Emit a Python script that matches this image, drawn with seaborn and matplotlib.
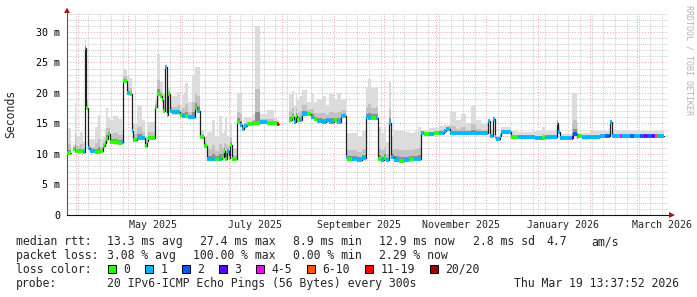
import numpy as np
import pandas as pd
import matplotlib
matplotlib.use("Agg")
import matplotlib.pyplot as plt
import matplotlib.dates as mdates
import matplotlib.ticker as mticker
from matplotlib.patches import Polygon, Rectangle
import seaborn as sns

# ---------------- data ----------------
dates = ["2025-03-25","2025-03-28","2025-03-29","2025-03-30","2025-03-31","2025-04-02","2025-04-04","2025-04-05","2025-04-06","2025-04-07",
         "2025-04-08","2025-04-11","2025-04-13","2025-04-14","2025-04-16","2025-04-17","2025-04-18","2025-04-19","2025-04-20","2025-04-22",
         "2025-04-25","2025-04-27","2025-04-28","2025-04-30","2025-05-02","2025-05-03","2025-05-04","2025-05-06","2025-05-09","2025-05-11",
         "2025-05-12","2025-05-13","2025-05-17","2025-05-18","2025-05-20","2025-05-21","2025-05-22","2025-05-23","2025-05-24","2025-05-25",
         "2025-05-26","2025-05-27","2025-05-30","2025-06-01","2025-06-02","2025-06-04","2025-06-06","2025-06-08","2025-06-10","2025-06-11",
         "2025-06-13","2025-06-15","2025-06-17","2025-06-20","2025-06-22","2025-06-24","2025-06-26","2025-06-27","2025-06-28","2025-06-29",
         "2025-06-30","2025-07-01","2025-07-02","2025-07-05","2025-07-07","2025-07-08","2025-07-09","2025-07-11","2025-07-14","2025-07-16",
         "2025-07-19","2025-07-23","2025-07-27","2025-07-29","2025-07-30","2025-08-05","2025-08-07","2025-08-08","2025-08-09","2025-08-10",
         "2025-08-11","2025-08-13","2025-08-16","2025-08-18","2025-08-20","2025-08-22","2025-08-25","2025-08-27","2025-08-29","2025-09-01",
         "2025-09-03","2025-09-05","2025-09-08","2025-09-09","2025-09-12","2025-09-15","2025-09-18","2025-09-20","2025-09-21","2025-09-23",
         "2025-09-26","2025-09-27","2025-09-29","2025-10-01","2025-10-02","2025-10-04","2025-10-05","2025-10-07","2025-10-10","2025-10-13",
         "2025-10-16","2025-10-19","2025-10-21","2025-10-23","2025-10-25","2025-10-28","2025-10-31","2025-11-03","2025-11-06","2025-11-07",
         "2025-11-09","2025-11-13","2025-11-16","2025-11-19","2025-11-22","2025-11-25","2025-11-28","2025-12-02","2025-12-03","2025-12-05",
         "2025-12-06","2025-12-07","2025-12-09","2025-12-10","2025-12-16","2025-12-20","2025-12-26","2025-12-30","2026-01-03","2026-01-05",
         "2026-01-09","2026-01-12","2026-01-13","2026-01-14","2026-01-18","2026-01-21","2026-01-22","2026-01-24","2026-01-25","2026-01-27",
         "2026-02-01","2026-02-07","2026-02-10","2026-02-13","2026-02-14","2026-02-18","2026-02-19","2026-02-20","2026-02-25","2026-02-27",
         "2026-03-03","2026-03-05","2026-03-07","2026-03-10","2026-03-12","2026-03-13","2026-03-17"]

nan = np.nan
median_ms = [10.1, nan, 10.8, 10.5, 10.5, 10.5, 10.4, 27.4, 17.5, 10.9,
             10.5, 10.4, 10.4, 10.5, 11.3, 11.8, 12.5, 13.2, 12.0, 11.9,
             11.8, 12.0, 22.0, 20.0, 19.8, 13.8, 12.3, 12.6, 12.6, 11.3,
             12.1, 12.6, 17.7, 19.9, 19.5, 18.8, 17.0, 24.3, 16.4, 19.9,
             17.0, 16.8, 16.8, 16.4, 16.2, 16.3, 16.0, 16.1, 17.5, 17.0,
             12.8, 11.3, 9.2, 9.2, 9.2, 9.2, 9.5, 10.5, 9.2, 10.5,
             9.4, 11.5, 9.2, 15.3, 14.7, 14.1, 14.6, 14.9, 15.0, 15.0,
             15.2, 15.0, 15.0, 14.9, nan, 15.5, 16.0, 15.3, 16.2, 15.5,
             15.6, 16.6, 16.5, 16.0, 15.8, 15.4, 15.3, 15.5, 15.3, 15.5,
             15.3, 16.3, 9.5, 9.1, 9.2, 9.0, 9.3, 16.0, 15.9, 15.9,
             15.9, 9.2, 9.0, 9.3, 9.0, 15.0, 9.5, 9.0, 8.9, 9.0,
             9.1, 9.2, 9.2, 13.4, 13.3, 13.3, 13.4, 13.5, 13.7, 14.1,
             13.4, 13.4, 13.4, 13.4, 13.4, 13.4, 13.4, 15.4, 12.9, 15.7,
             12.8, 12.4, 12.9, 13.6, 12.8, 12.8, 12.8, 12.6, 12.6, 12.7,
             12.8, 15.0, 13.6, 12.6, 12.6, 12.6, 13.2, 12.8, 12.9, 12.7,
             12.8, 12.9, 13.0, 15.3, 12.9, 12.9, 12.9, 12.9, 12.9, 12.9,
             12.9, 12.9, 12.9, 12.9, 12.9, 12.9, nan]

loss_class = [0, 0, 0, 1, 0, 0, 1, 1, 0, 1,
              1, 0, 0, 0, 0, 1, 0, 0, 0, 0,
              0, 1, 0, 1, 0, 1, 0, 1, 1, 0,
              0, 0, 0, 0, 0, 0, 0, 1, 0, 0,
              1, 1, 1, 0, 1, 0, 1, 1, 0, 1,
              0, 0, 1, 1, 0, 1, 0, 0, 0, 1,
              0, 0, 0, 0, 1, 1, 1, 0, 0, 0,
              1, 0, 0, 6, 0, 0, 0, 1, 0, 0,
              1, 1, 0, 1, 0, 1, 1, 1, 1, 0,
              1, 1, 1, 0, 1, 1, 1, 1, 1, 0,
              1, 0, 1, 0, 1, 1, 1, 1, 0, 1,
              0, 1, 1, 1, 0, 1, 0, 1, 1, 1,
              1, 1, 1, 1, 1, 1, 1, 1, 1, 1,
              0, 1, 1, 1, 0, 1, 1, 1, 0, 1,
              1, 1, 1, 1, 1, 3, 2, 1, 0, 1,
              1, 1, 2, 1, 1, 0, 4, 1, 2, 1,
              2, 3, 2, 3, 5, 1, 0]

smoke_top_ms = [14.3, nan, 11.5, 18.4, 13.0, 13.6, 12.0, 28.7, 19.0, 12.5,
                12.5, 14.4, 16.4, 12.5, 13.0, 14.0, 17.5, 16.0, 15.5, 16.3,
                15.7, 14.0, 24.0, 22.8, 22.5, 14.5, 15.0, 18.0, 15.5, 13.0,
                14.0, 15.3, 19.0, 26.3, 22.0, 22.0, 20.0, 24.5, 18.0, 21.0,
                19.0, 19.5, 20.2, 18.0, 19.8, 21.6, 18.5, 23.0, 24.3, 24.3,
                14.0, 13.0, 13.6, 15.5, 13.0, 16.2, 13.5, 14.0, 16.0, 13.0,
                13.0, 15.0, 11.0, 20.0, 20.0, 15.0, 16.0, 16.0, 16.5, 31.0,
                16.5, 17.2, 16.0, 15.5, nan, 19.8, 20.3, 18.0, 20.0, 19.0,
                19.5, 20.5, 18.5, 20.0, 18.5, 19.0, 19.5, 18.0, 20.0, 19.0,
                20.0, 19.0, 12.0, 13.5, 13.5, 13.0, 13.8, 21.0, 22.3, 20.8,
                21.0, 14.5, 13.5, 14.5, 12.0, 22.0, 13.0, 14.0, 13.8, 13.6,
                13.4, 13.6, 14.5, 14.0, 14.0, 14.2, 14.3, 14.6, 14.8, 14.8,
                16.8, 15.5, 16.5, 15.0, 17.8, 15.5, 15.0, 15.8, 14.0, 16.0,
                14.0, 13.0, 13.5, 14.5, 13.8, 13.6, 13.6, 13.8, 14.5, 13.7,
                13.7, 16.5, 14.5, 13.3, 13.3, 19.9, 20.0, 15.0, 13.5, 13.5,
                13.7, 13.7, 13.8, 15.5, 14.0, 13.7, 13.7, 13.7, 13.7, 13.7,
                13.7, 13.7, 13.7, 13.7, 13.9, 13.7, nan]

loss_labels = ["0", "1", "2", "3", "4-5", "6-10", "11-19", "20/20"]
loss_colors = ["#26ff00", "#00b8ff", "#0059ff", "#5e00ff", "#ff00ff", "#ff5500", "#ff0000", "#a10000"]

x_labels = ["May 2025", "July 2025", "September 2025", "November 2025", "January 2026", "March 2026"]
x_label_dates = ["2025-05-16", "2025-07-16", "2025-09-16", "2025-11-16", "2026-01-16", "2026-03-16"]

y_ticks = [0, 5, 10, 15, 20, 25, 30]
y_tick_labels = ["0", "5 m", "10 m", "15 m", "20 m", "25 m", "30 m"]

# ---------------- prepare ----------------
df = pd.DataFrame({"date": pd.to_datetime(dates), "median": median_ms,
                   "loss": loss_class, "smoke": smoke_top_ms})
df["end"] = df["date"].shift(-1)
df["block"] = df["median"].isna().cumsum()
seg = df.dropna(subset=["median", "end"]).reset_index(drop=True)

pts = pd.concat([
    pd.DataFrame({"t": seg["date"], "m": seg["median"], "block": seg["block"], "o": np.arange(len(seg)) * 2}),
    pd.DataFrame({"t": seg["end"], "m": seg["median"], "block": seg["block"], "o": np.arange(len(seg)) * 2 + 1}),
]).sort_values("o").reset_index(drop=True)

# ---------------- figure ----------------
sns.set_style("white")
plt.rcParams["font.family"] = ["DejaVu Sans Mono", "DejaVu Sans"]

W, H = 697, 297
fig = plt.figure(figsize=(W / 100, H / 100), dpi=100)
fig.patch.set_facecolor("white")

def fx(x):
    return x / W

def fy(y):
    return 1 - y / H

L, R, T, B = 67, 668, 13, 215
ax = fig.add_axes([fx(L), fy(B), (R - L) / W, (B - T) / H])
ax.set_facecolor("white")

# smoke layers
for _, r in seg.iterrows():
    m, top = r["median"], r["smoke"]
    xs = [r["date"], r["end"]]
    ax.fill_between(xs, m - 0.35, top, color="#dcdcdc", lw=0, zorder=1)
    ax.fill_between(xs, m - 0.2, m + 0.35 * (top - m), color="#c2c2c2", lw=0, zorder=1.1)
    ax.fill_between(xs, m - 0.1, m + 0.12 * (top - m), color="#8e8e8e", lw=0, zorder=1.2)

# median line (dark) with seaborn
sns.lineplot(data=pts, x="t", y="m", units="block", estimator=None, sort=False,
             color="#202020", lw=0.9, ax=ax, zorder=3)

# loss-coloured median segments
ax.hlines(seg["median"], seg["date"], seg["end"],
          colors=[loss_colors[int(k)] for k in seg["loss"]], lw=2.7, zorder=4,
          capstyle="butt")

ax.set_xlim(pd.Timestamp("2025-03-25 10:00"), pd.Timestamp("2026-03-19 13:37"))
ax.set_ylim(0, 33.1)
ax.set_xlabel("")
ax.set_ylabel("")

ax.xaxis.set_major_locator(mdates.MonthLocator())
ax.xaxis.set_minor_locator(mdates.WeekdayLocator(byweekday=mdates.MO))
ax.xaxis.set_major_formatter(mticker.NullFormatter())
ax.set_yticks(y_ticks)
ax.set_yticklabels(y_tick_labels)
ax.yaxis.set_minor_locator(mticker.MultipleLocator(1))

ax.grid(which="minor", color="#cccccc", ls=(0, (1, 1)), lw=0.7, zorder=0)
ax.grid(which="major", color="#f2a0a0", ls=(0, (1, 2)), lw=0.7, zorder=0)
ax.set_axisbelow(True)

ax.tick_params(axis="both", which="major", direction="out", length=2.2, width=0.6,
               color="#555555", labelsize=7.2, pad=2.9, labelcolor="#000000")
ax.tick_params(axis="both", which="minor", direction="out", length=1.4, width=0.6, color="#777777")

for s in ["top", "right"]:
    ax.spines[s].set_visible(False)
ax.spines["left"].set_color("#555555")
ax.spines["left"].set_linewidth(0.8)
ax.spines["bottom"].set_color("#111111")
ax.spines["bottom"].set_linewidth(0.8)

# x labels centred in each labelled month
x0, x1 = ax.get_xlim()
for lab, d in zip(x_labels, x_label_dates):
    xpix = L + (mdates.date2num(pd.Timestamp(d)) - x0) / (x1 - x0) * (R - L)
    fig.text(fx(xpix), fy(228), lab, ha="center", va="baseline", fontsize=7.2)

# arrows
fig.add_artist(Polygon([(fx(67), fy(7.5)), (fx(64), fy(13)), (fx(70), fy(13))],
                       closed=True, transform=fig.transFigure, color="#9b1c1c", lw=0))
fig.add_artist(Polygon([(fx(675), fy(215)), (fx(669), fy(212)), (fx(669), fy(218))],
                       closed=True, transform=fig.transFigure, color="#9b1c1c", lw=0))

# y label and watermark
fig.text(fx(10.7), fy(114), "Seconds", rotation=90, ha="center", va="center", fontsize=8.3)
fig.text(fx(688.5), fy(5), "RRDTOOL / TOBI OETIKER", rotation=270, ha="center", va="top",
         fontsize=6.0, color="#b4b4b4")

# legend text
fs = 8.3
def t(x, y, s, **kw):
    fig.text(fx(x), fy(y), s, fontsize=fs, va="baseline", **kw)

t(16, 245.3, "median rtt:")
for x, s in [(107.3, "13.3 ms avg"), (200, "27.4 ms max"), (293, "8.9 ms min"),
             (378.7, "12.9 ms now"), (473.3, "2.8 ms sd"), (546.7, "4.7"), (591.7, "am/s")]:
    t(x, 245.3, s)
t(16, 259.3, "packet loss:")
for x, s in [(107.3, "3.08 % avg"), (193.3, "100.00 % max"), (293, "0.00 % min"), (378.7, "2.29 % now")]:
    t(x, 259.3, s)
t(16, 273, "loss color:")
bx = 108.3
for lab, col in zip(loss_labels, loss_colors):
    fig.add_artist(Rectangle((fx(bx), fy(273)), 8 / W, 8 / H, transform=fig.transFigure,
                             facecolor=col, edgecolor="black", lw=0.7))
    t(bx + 15, 273, lab)
    bx += 37 + 7 * (len(lab) - 1)
t(16, 287, "probe:")
t(107.3, 287, "20 IPv6-ICMP Echo Pings (56 Bytes) every 300s")
t(679, 287, "Thu Mar 19 13:37:52 2026", ha="right")

fig.savefig("out.png", dpi=100, facecolor="white")
